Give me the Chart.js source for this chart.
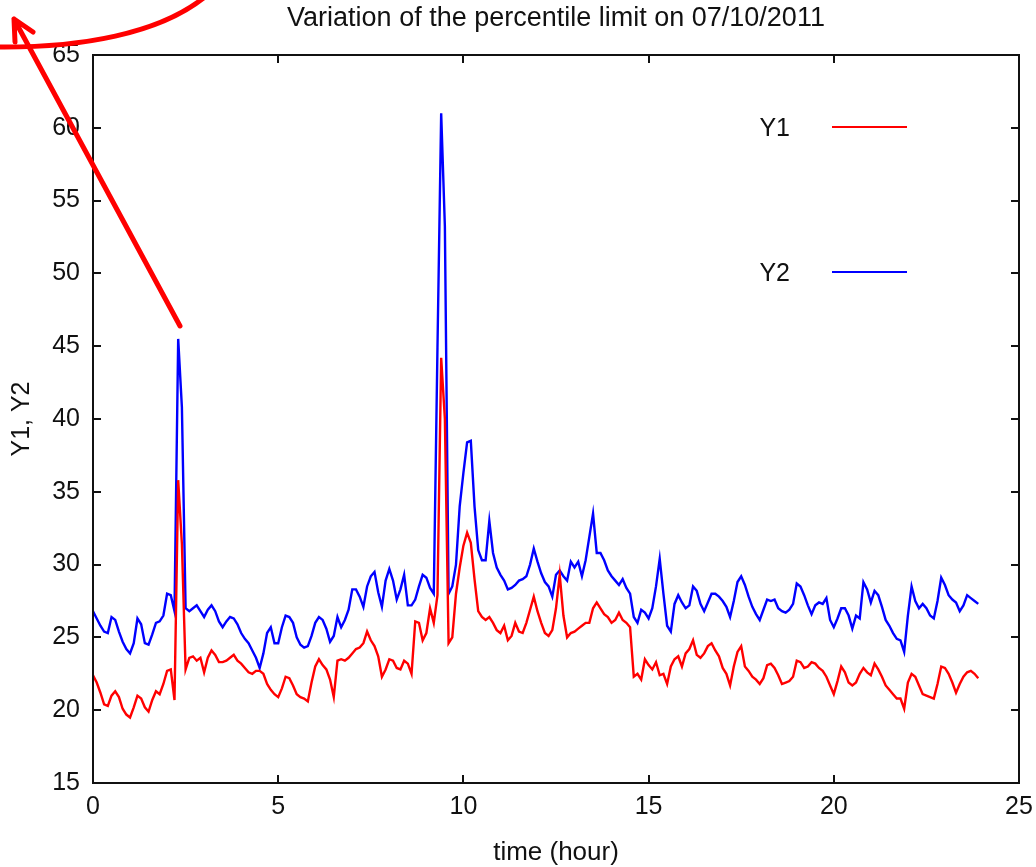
<!DOCTYPE html>
<html>
<head>
<meta charset="utf-8">
<title>Variation of the percentile limit on 07/10/2011</title>
<script src="https://cdn.jsdelivr.net/npm/chart.js@4.4.1/dist/chart.umd.min.js"></script>
<style>
  html, body { margin: 0; padding: 0; background: #ffffff; }
  canvas { display: block; }
</style>
</head>
<body>
<canvas id="chart" width="1036" height="867"></canvas>
<script>
// Percentile limits sampled every 0.1 hour over the day (0.0 .. 23.9 h)
const SAMPLE_STEP_HOURS = 0.1;

const seriesNames = ['Y1', 'Y2'];

const y1 = [
  22.4, 21.9, 21.2, 20.4, 20.3, 21.0, 21.3, 20.9, 20.1, 19.7,
  19.5, 20.2, 21.0, 20.8, 20.2, 19.9, 20.7, 21.3, 21.1, 21.8,
  22.7, 22.8, 20.7, 35.8, 31.4, 22.8, 23.6, 23.7, 23.4, 23.6,
  22.6, 23.6, 24.1, 23.8, 23.3, 23.3, 23.4, 23.6, 23.8, 23.4,
  23.2, 22.9, 22.6, 22.5, 22.7, 22.7, 22.5, 21.8, 21.4, 21.1,
  20.9, 21.5, 22.3, 22.2, 21.7, 21.1, 20.9, 20.8, 20.6, 21.9,
  23.0, 23.5, 23.1, 22.8, 22.1, 20.9, 23.4, 23.5, 23.4, 23.6,
  23.9, 24.2, 24.3, 24.6, 25.4, 24.8, 24.4, 23.7, 22.3, 22.8,
  23.5, 23.4, 22.9, 22.8, 23.4, 23.2, 22.5, 26.1, 26.0, 24.8,
  25.3, 27.0, 26.0, 27.9, 44.2, 40.0, 24.6, 25.0, 28.0, 29.8,
  31.3, 32.2, 31.5, 29.0, 26.8, 26.4, 26.2, 26.4, 26.0, 25.5,
  25.3, 25.8, 24.8, 25.1, 26.0, 25.4, 25.3, 26.0, 26.9, 27.8,
  26.8, 26.0, 25.3, 25.1, 25.5, 27.0, 29.3, 26.5, 25.0, 25.3,
  25.4, 25.6, 25.8, 26.0, 26.0, 27.0, 27.4, 27.0, 26.6, 26.4,
  26.0, 26.2, 26.7, 26.2, 26.0, 25.7, 22.3, 22.5, 22.1, 23.5,
  23.1, 22.8, 23.3, 22.4, 22.5, 21.8, 23.0, 23.5, 23.7, 23.0,
  23.9, 24.2, 24.8, 23.8, 23.6, 23.9, 24.4, 24.6, 24.1, 23.7,
  22.9, 22.5, 21.7, 23.0, 24.0, 24.4, 23.0, 22.7, 22.3, 22.1,
  21.8, 22.2, 23.1, 23.2, 22.9, 22.4, 21.8, 21.9, 22.0, 22.3,
  23.4, 23.3, 22.9, 23.0, 23.3, 23.2, 22.9, 22.7, 22.3, 21.7,
  21.1, 22.0, 23.0, 22.6, 21.9, 21.7, 21.9, 22.5, 22.9, 22.6,
  22.4, 23.2, 22.8, 22.3, 21.7, 21.4, 21.1, 20.8, 20.8, 20.1,
  21.9, 22.5, 22.3, 21.7, 21.1, 21.0, 20.9, 20.8, 21.8, 23.0,
  22.9, 22.5, 21.9, 21.2, 21.8, 22.3, 22.6, 22.7, 22.5, 22.2
];

const y2 = [
  26.8, 26.3, 25.8, 25.4, 25.3, 26.4, 26.2, 25.4, 24.7, 24.2,
  23.9, 24.6, 26.3, 25.9, 24.6, 24.5, 25.2, 26.0, 26.1, 26.5,
  28.0, 27.9, 26.8, 45.5, 40.8, 27.0, 26.8, 27.0, 27.2, 26.8,
  26.4, 26.9, 27.2, 26.8, 26.1, 25.7, 26.1, 26.4, 26.3, 25.9,
  25.3, 24.9, 24.6, 24.1, 23.6, 22.9, 23.9, 25.3, 25.7, 24.6,
  24.6, 25.7, 26.5, 26.4, 26.0, 25.0, 24.5, 24.3, 24.4, 25.1,
  26.0, 26.4, 26.2, 25.6, 24.7, 25.1, 26.4, 25.7, 26.2, 26.9,
  28.3, 28.3, 27.8, 27.1, 28.5, 29.2, 29.5, 28.1, 27.1, 28.9,
  29.7, 28.9, 27.6, 28.3, 29.3, 27.2, 27.2, 27.6, 28.5, 29.3,
  29.1, 28.4, 28.0, 44.9, 61.0, 53.2, 28.0, 28.5, 30.0, 34.0,
  36.3, 38.4, 38.5, 34.0, 31.0, 30.3, 30.3, 33.0, 30.8, 29.8,
  29.3, 28.9, 28.3, 28.4, 28.6, 28.9, 29.0, 29.2, 30.0, 31.1,
  30.2, 29.4, 28.8, 28.5, 27.8, 29.3, 29.6, 29.2, 28.9, 30.2,
  29.8, 30.2, 29.2, 30.3, 31.9, 33.5, 30.8, 30.8, 30.3, 29.6,
  29.2, 28.9, 28.6, 29.0, 28.4, 28.0, 26.4, 26.0, 26.9, 26.7,
  26.3, 27.0, 28.5, 30.4, 28.0, 25.8, 25.4, 27.3, 27.9, 27.4,
  27.0, 27.2, 28.5, 28.2, 27.3, 26.8, 27.4, 28.0, 28.0, 27.8,
  27.5, 27.1, 26.4, 27.5, 28.8, 29.2, 28.6, 27.8, 27.1, 26.6,
  26.2, 26.9, 27.6, 27.5, 27.6, 27.0, 26.8, 26.7, 26.9, 27.3,
  28.7, 28.5, 27.9, 27.2, 26.6, 27.2, 27.4, 27.3, 27.7, 26.2,
  25.7, 26.3, 27.0, 27.0, 26.5, 25.6, 26.5, 26.3, 28.8, 28.3,
  27.4, 28.2, 27.9, 27.1, 26.2, 25.8, 25.3, 24.9, 24.8, 24.0,
  26.5, 28.5, 27.5, 27.0, 27.3, 27.0, 26.5, 26.3, 27.5, 29.1,
  28.6, 27.9, 27.6, 27.4, 26.8, 27.2, 27.9, 27.7, 27.5, 27.3
];

const xTicks = [0, 5, 10, 15, 20, 25];
const yTicks = [15, 20, 25, 30, 35, 40, 45, 50, 55, 60, 65];

// Time of each sample in hours
const hours = y1.map((_, i) => Math.round(i * SAMPLE_STEP_HOURS * 10) / 10);
const toPoints = (values) => values.map((v, i) => ({ x: hours[i], y: v }));

const FONT = "'Liberation Sans', Arial, Helvetica, sans-serif";
const INK = '#111111';

// Plot title centred over the plotting area
const titlePlugin = {
  id: 'plotTitle',
  afterDraw(chart) {
    const { ctx, chartArea } = chart;
    ctx.save();
    ctx.font = `27px ${FONT}`;
    ctx.fillStyle = INK;
    ctx.textAlign = 'center';
    ctx.textBaseline = 'middle';
    ctx.fillText('Variation of the percentile limit on 07/10/2011',
      (chartArea.left + chartArea.right) / 2, 19);
    ctx.restore();
  }
};

// Closed frame with inward tick marks on all four sides
const framePlugin = {
  id: 'frameTicks',
  afterDatasetsDraw(chart) {
    const { ctx, chartArea: a, scales } = chart;
    const len = 8;
    ctx.save();
    ctx.strokeStyle = INK;
    ctx.lineWidth = 2;
    ctx.strokeRect(a.left, a.top, a.right - a.left, a.bottom - a.top);
    ctx.beginPath();
    xTicks.forEach(v => {
      const px = Math.round(scales.x.getPixelForValue(v));
      ctx.moveTo(px, a.bottom); ctx.lineTo(px, a.bottom - len);
      ctx.moveTo(px, a.top); ctx.lineTo(px, a.top + len);
    });
    yTicks.forEach(v => {
      const py = Math.round(scales.y.getPixelForValue(v));
      ctx.moveTo(a.left, py); ctx.lineTo(a.left + len, py);
      ctx.moveTo(a.right, py); ctx.lineTo(a.right - len, py);
    });
    ctx.stroke();
    ctx.restore();
  }
};

// Key inside the plot: label on the left, line sample on the right
const keyPlugin = {
  id: 'plotKey',
  afterDatasetsDraw(chart) {
    const { ctx } = chart;
    const rows = [127, 272];
    ctx.save();
    ctx.font = `25px ${FONT}`;
    ctx.textAlign = 'right';
    ctx.textBaseline = 'middle';
    chart.data.datasets.forEach((ds, i) => {
      const y = rows[i];
      ctx.fillStyle = INK;
      ctx.fillText(ds.label, 790, y + 2);
      ctx.strokeStyle = ds.borderColor;
      ctx.lineWidth = 2;
      ctx.beginPath();
      ctx.moveTo(832, y);
      ctx.lineTo(907, y);
      ctx.stroke();
    });
    ctx.restore();
  }
};

// Red pen arrow drawn over the top-left corner
const arrowPlugin = {
  id: 'arrowNote',
  afterDraw(chart) {
    const { ctx } = chart;
    ctx.save();
    ctx.strokeStyle = '#ff0000';
    ctx.lineWidth = 5;
    ctx.lineCap = 'round';
    ctx.lineJoin = 'round';
    ctx.beginPath();
    ctx.moveTo(180, 326);
    ctx.lineTo(14, 19);
    ctx.moveTo(15, 42);
    ctx.lineTo(14, 19);
    ctx.lineTo(33, 32);
    ctx.stroke();
    ctx.beginPath();
    ctx.moveTo(-4, 47);
    ctx.bezierCurveTo(80, 48, 160, 34, 206, -4);
    ctx.stroke();
    ctx.restore();
  }
};

new Chart(document.getElementById('chart'), {
  type: 'line',
  data: {
    datasets: [
      {
        label: seriesNames[0],
        data: toPoints(y1),
        borderColor: '#ff0000',
        borderWidth: 2.4,
        pointRadius: 0,
        tension: 0,
        fill: false
      },
      {
        label: seriesNames[1],
        data: toPoints(y2),
        borderColor: '#0000ff',
        borderWidth: 2.4,
        pointRadius: 0,
        tension: 0,
        fill: false
      }
    ]
  },
  options: {
    responsive: false,
    animation: false,
    devicePixelRatio: 1,
    layout: { padding: { top: 55, right: 17, left: 0, bottom: 0 } },
    plugins: {
      legend: { display: false },
      title: { display: false },
      tooltip: { enabled: false }
    },
    scales: {
      x: {
        type: 'linear',
        min: xTicks[0],
        max: xTicks[xTicks.length - 1],
        afterBuildTicks(scale) { scale.ticks = xTicks.map(v => ({ value: v })); },
        afterFit(scale) {
          scale.height = 84;
          scale.paddingLeft = 0;
          scale.paddingRight = 0;
        },
        grid: { display: false, drawTicks: false },
        border: { display: false },
        ticks: { color: INK, font: { family: FONT, size: 25 }, padding: 9, maxRotation: 0 },
        title: {
          display: true,
          text: 'time (hour)',
          color: INK,
          font: { family: FONT, size: 26, lineHeight: 1 },
          padding: { top: 0, bottom: 1 }
        }
      },
      y: {
        type: 'linear',
        min: yTicks[0],
        max: yTicks[yTicks.length - 1],
        afterBuildTicks(scale) { scale.ticks = yTicks.map(v => ({ value: v })); },
        afterFit(scale) {
          scale.width = 93;
          scale.paddingTop = 0;
          scale.paddingBottom = 0;
        },
        grid: { display: false, drawTicks: false },
        border: { display: false },
        ticks: { color: INK, font: { family: FONT, size: 25 }, padding: 13 },
        title: {
          display: true,
          text: 'Y1, Y2',
          color: INK,
          font: { family: FONT, size: 25, lineHeight: 1.2 },
          padding: { top: 7, bottom: 0 }
        }
      }
    }
  },
  plugins: [framePlugin, keyPlugin, titlePlugin, arrowPlugin]
});
</script>
</body>
</html>
